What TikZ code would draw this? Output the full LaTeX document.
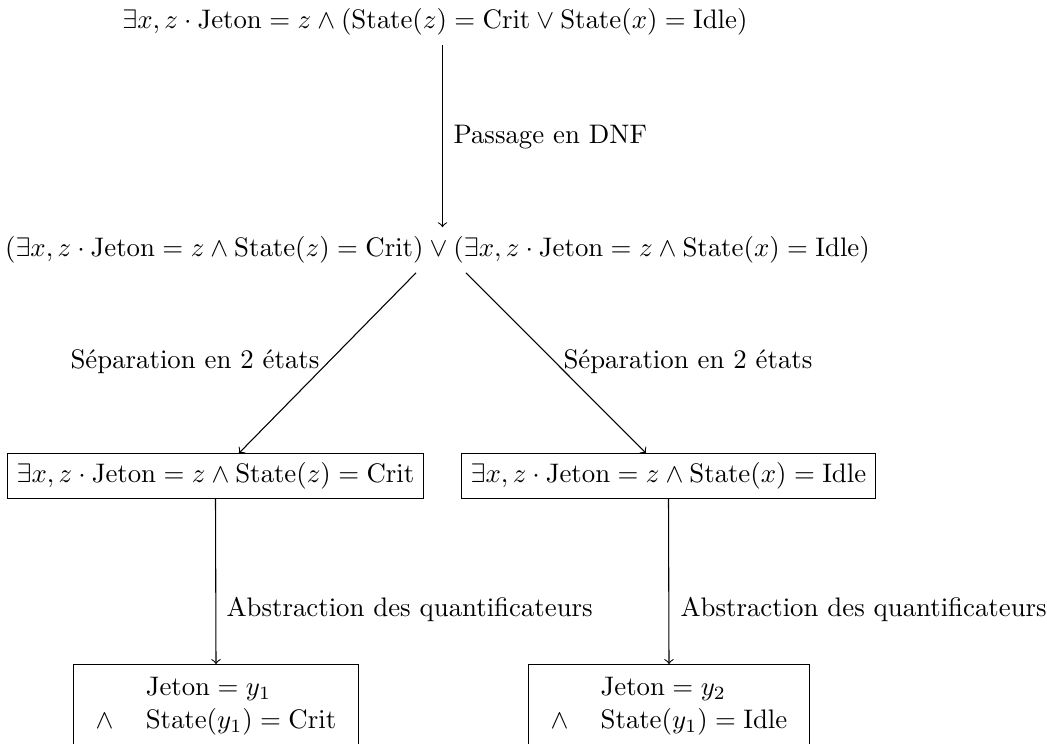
\documentclass[tikz,border=0pt]{standalone}
\usepackage{amsmath}
\begin{document}
\begin{tikzpicture}[x=0.3731pt,y=-0.3731pt,
  formula/.style={inner sep=3.33pt},
  boxed/.style={draw,inner sep=3.33pt},
  lbl/.style={inner sep=0pt},
  arr/.style={->}]
\useasboundingbox (0,0) rectangle (1047,744);
\node[formula] (top) at (435,22) {$\exists x, z \cdot \mathrm{Jeton} = z \wedge (\mathrm{State}(z) = \mathrm{Crit} \vee \mathrm{State}(x) = \mathrm{Idle})$};
\node[formula] (mid) at (437.5,250) {$(\exists x, z \cdot \mathrm{Jeton} = z \wedge \mathrm{State}(z) = \mathrm{Crit}) \vee (\exists x, z \cdot \mathrm{Jeton} = z \wedge \mathrm{State}(x) = \mathrm{Idle})$};
\node[boxed] (lbox) at (215.5,476) {$\exists x, z \cdot \mathrm{Jeton} = z \wedge \mathrm{State}(z) = \mathrm{Crit}$};
\node[boxed] (rbox) at (668.5,476) {$\exists x, z \cdot \mathrm{Jeton} = z \wedge \mathrm{State}(x) = \mathrm{Idle}$};
\node[boxed,anchor=north] (lbot) at (216,664) {$\begin{array}{c@{\hspace{12pt}}l} & \mathrm{Jeton} = y_1 \\ \wedge & \mathrm{State}(y_1) = \mathrm{Crit}\end{array}$};
\node[boxed,anchor=north] (rbot) at (669,664) {$\begin{array}{c@{\hspace{12pt}}l} & \mathrm{Jeton} = y_2 \\ \wedge & \mathrm{State}(y_1) = \mathrm{Idle}\end{array}$};
\draw[arr] (top.south -| 442.5,0) -- (mid.north -| 442.5,0);
\draw[arr] (mid.south -| 416,0) -- (lbox.north -| 239,0);
\draw[arr] (mid.south -| 466,0) -- (rbox.north -| 646,0);
\draw[arr] (lbox.south) -- (lbot.north);
\draw[arr] (rbox.south) -- (rbot.north);
\node[lbl,anchor=west] (l1) at (453,137) {Passage en DNF};
\node[lbl,anchor=east] (l2) at (320,362) {Séparation en 2 états};
\node[lbl,anchor=west] (l3) at (563,362) {Séparation en 2 états};
\node[lbl,anchor=west] (l4) at (226,610) {Abstraction des quantificateurs};
\node[lbl,anchor=west] (l5) at (680,610) {Abstraction des quantificateurs};
\end{tikzpicture}
\end{document}
